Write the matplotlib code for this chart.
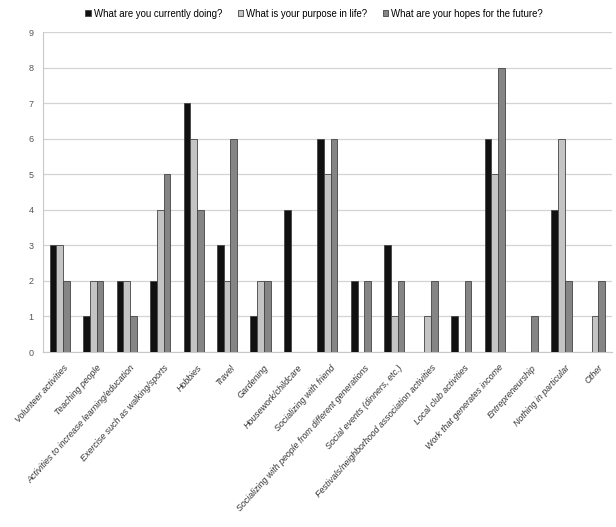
import numpy as np
import matplotlib
matplotlib.use('Agg')
import matplotlib.pyplot as plt

categories = [
    'Volunteer activities', 'Teaching people',
    'Activities to increase learning/education',
    'Exercise such as walking/sports', 'Hobbies', 'Travel', 'Gardening',
    'Housework/childcare', 'Socializing with friend',
    'Socializing with people from different generations',
    'Social events (dinners, etc.)',
    'Festivals/neighborhood association activities',
    'Local club activities', 'Work that generates income',
    'Entrepreneurship', 'Nothing in particular', 'Other',
]
series_names = ['What are you currently doing?', 'What is your purpose in life?',
                'What are your hopes for the future?']
currently = [3, 1, 2, 2, 7, 3, 1, 4, 6, 2, 3, 0, 1, 6, 0, 4, 0]
purpose = [3, 2, 2, 4, 6, 2, 2, 0, 5, 0, 1, 1, 0, 5, 0, 6, 1]
hopes = [2, 2, 1, 5, 4, 6, 2, 0, 6, 2, 2, 2, 2, 8, 1, 2, 2]

colors = ['#111111', '#c4c4c4', '#858585']
plt.rcParams['font.family'] = ['Liberation Sans', 'DejaVu Sans']

fig = plt.figure(figsize=(6.16, 5.27), dpi=100)
ax = fig.add_axes([0.07, 0.332, 0.923, 0.607])

x = np.arange(len(categories))
w = 0.2
for i, (vals, c) in enumerate(zip([currently, purpose, hopes], colors)):
    ax.bar(x + (i - 1) * w, vals, w, color=c, edgecolor='#444444', lw=0.6,
           label=series_names[i], zorder=3)

ax.set_xlim(-0.5, len(categories) - 0.5)
ax.set_ylim(0, 9)
ax.set_yticks(range(10))
ax.grid(True, axis='y', color='#d4d4d4', lw=0.9, zorder=0)
for s in ['top', 'right']:
    ax.spines[s].set_visible(False)
ax.spines['left'].set_color('#c8c8c8')
ax.spines['bottom'].set_color('#c8c8c8')
ax.tick_params(axis='both', length=0, labelsize=6.5, colors='#555555')
ax.tick_params(axis='y', pad=7)
ax.set_xticks(x + 0.1)
ax.set_xticklabels(categories, rotation=48, ha='right', rotation_mode='anchor',
                   fontsize=6.4, style='italic', color='#333333')
ax.tick_params(axis='x', pad=8)

fig.legend(loc='upper center', bbox_to_anchor=(0.51, 1.0), ncol=3, frameon=False,
           fontsize=6.9, handlelength=0.6, handleheight=0.6, columnspacing=1.6,
           handletextpad=0.3)
fig.savefig('out.png', dpi=100)
